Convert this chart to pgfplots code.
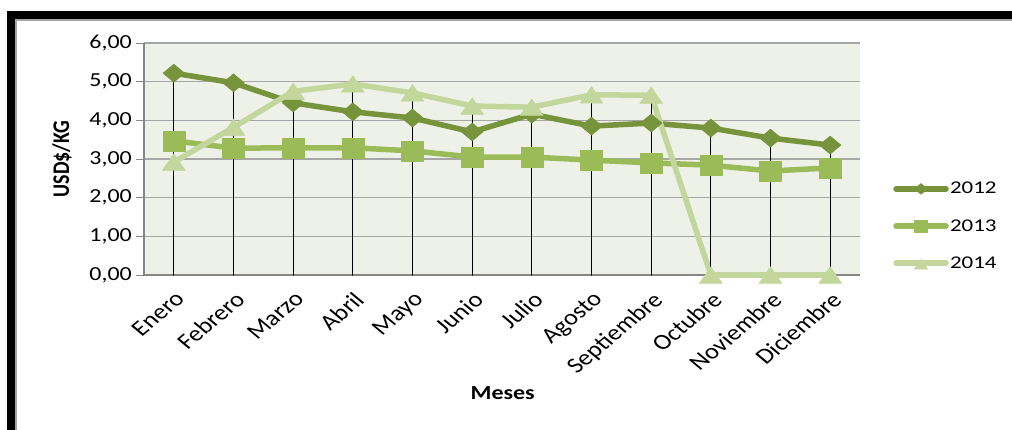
\documentclass[border=0pt]{standalone}
\usepackage{pgfplots}
\usepackage{pgfplotstable}
\pgfplotsset{compat=1.18}
\usepackage{fontspec}
\setmainfont{Carlito}

\definecolor{c2012}{HTML}{77933C}
\definecolor{c2013}{HTML}{9BBB59}
\definecolor{c2014}{HTML}{C3D69B}
\definecolor{plotbg}{HTML}{EEF1E8}
\definecolor{gridc}{HTML}{A6A6A6}
\definecolor{axisc}{HTML}{868686}

% Precio mensual (USD$/KG)
\pgfplotstableread{
idx y2012 y2013 y2014
0  5.22 3.47 2.92
1  4.97 3.28 3.82
2  4.45 3.29 4.75
3  4.22 3.29 4.94
4  4.06 3.21 4.71
5  3.70 3.05 4.37
6  4.16 3.05 4.34
7  3.85 2.97 4.66
8  3.93 2.90 4.65
9  3.80 2.84 0
10 3.54 2.69 0
11 3.36 2.77 0
}\datatable

\newcommand{\lblfont}{\fontsize{20}{24}\selectfont}

\begin{document}
\begin{tikzpicture}
\path[use as bounding box] (0bp,0bp) rectangle (1012bp,430bp);
% marco exterior
\fill[black] (7bp,0bp) rectangle (15bp,419bp);
\fill[black] (7bp,411bp) rectangle (1012bp,419bp);
\draw[gray!70, line width=1.2bp] (16bp,0bp) -- (16bp,410bp) -- (1012bp,410bp);

\begin{axis}[
  at={(144bp,155bp)}, anchor=south west,
  scale only axis, width=716bp, height=232bp,
  xmin=-0.5, xmax=11.5, ymin=0, ymax=6,
  clip=false,
  axis background/.style={fill=plotbg},
  axis x line*=bottom, axis y line*=left,
  axis line style={-, draw=axisc, line width=1.2bp},
  ytick={0,1,2,3,4,5,6},
  ymajorgrids, grid style={gridc, line width=1.3bp},
  yticklabel style={font=\lblfont, xscale=1.2,
    /pgf/number format/.cd, fixed, fixed zerofill, precision=2, use comma, assume math mode=true},
  ytick style={draw=axisc, line width=1bp},
  major tick length=8bp, tick align=outside,
  xtick={0,...,11},
  xticklabels={Enero,Febrero,Marzo,Abril,Mayo,Junio,Julio,Agosto,Septiembre,Octubre,Noviembre,Diciembre},
  xtick style={draw=none},
  xticklabel shift={6bp},
  xticklabel style={font=\fontsize{22}{26}\selectfont, xscale=1.2, rotate=45, anchor=north east, inner sep=1bp},
  xlabel={\textbf{Meses}},
  xlabel style={at={(axis description cs:0.501,-0.509)}, anchor=center, font=\lblfont, xscale=1.2},
  ylabel={\textbf{USD\$/KG}},
  ylabel style={at={(axis description cs:-0.1145,0.5)}, anchor=center, font=\lblfont, yscale=1.2},
  legend style={at={(axis description cs:1.042,0.211)}, anchor=west, draw=none, fill=none,
    font=\fontsize{18}{21}\selectfont, row sep=22bp,
    nodes={xscale=1.28, inner sep=1bp}},
  legend cell align=left,
  legend image code/.code={
    \draw[mark repeat=2, mark phase=2, #1, every mark/.append style={scale=0.6}]
      plot coordinates {(0bp,0bp) (25bp,0bp) (50bp,0bp)};},
  every axis plot/.append style={line width=5.5bp, line cap=round, line join=round},
]
\addplot[c2012, mark=diamond*, mark size=9bp,
  mark options={solid, line width=0.5bp, xscale=1.6}]
  table[x=idx, y=y2012] {\datatable};
\addlegendentry{2012}
\addplot[c2013, mark=square*, mark size=10bp,
  mark options={solid, line width=0.5bp, xscale=1.1}]
  table[x=idx, y=y2013] {\datatable};
\addlegendentry{2013}
\addplot[c2014, mark=triangle*, mark size=11bp,
  mark options={solid, line width=0.5bp, xscale=1.2, yshift=-2.75bp}]
  table[x=idx, y=y2014] {\datatable};
\addlegendentry{2014}
% lineas de proyeccion hasta el eje
\addplot[ycomb, black, line width=0.9bp, no marks, forget plot] table[x=idx, y=y2012] {\datatable};
\addplot[ycomb, black, line width=0.9bp, no marks, forget plot] table[x=idx, y=y2013] {\datatable};
\addplot[ycomb, black, line width=0.9bp, no marks, forget plot] table[x=idx, y=y2014] {\datatable};
\end{axis}
\end{tikzpicture}
\end{document}
